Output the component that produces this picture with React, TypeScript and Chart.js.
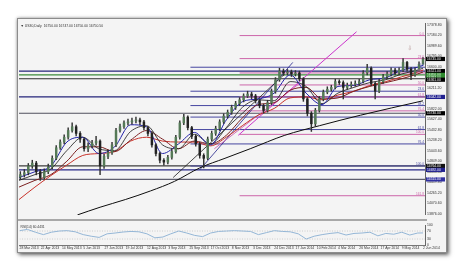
import React, { useEffect, useRef } from "react";
import { Chart, registerables } from "chart.js";
Chart.register(...registerables);

const FONT = '"Liberation Sans", Arial, sans-serif';

// ---------- data ----------
const titleText = "\u25BC US30,Daily  16750.00 16747.00 16750.00 16750.50";
const dateLabels = [
  "28 Mar 2013", "22 Apr 2013", "14 May 2013", "5 Jun 2013", "27 Jun 2013",
  "19 Jul 2013", "12 Aug 2013", "3 Sep 2013", "25 Sep 2013", "17 Oct 2013",
  "8 Nov 2013", "3 Dec 2013", "24 Dec 2013", "17 Jan 2014", "10 Feb 2014",
  "4 Mar 2014", "26 Mar 2014", "17 Apr 2014", "9 May 2014", "2 Jun 2014",
];
const firstOpen = 14560;
const closes = [
  14604, 14639, 14764, 14817, 14657, 14550, 14657, 14746, 14906, 15101,
  15207, 15296, 15420, 15491, 15367, 15261, 15083, 15136, 15190, 15225,
  14764, 14941, 15012, 15154, 15420, 15491, 15562, 15580, 15598, 15616,
  15580, 15474, 15367, 15154, 14994, 14870, 14835, 14923, 15030, 15296,
  15562, 15669, 15474, 15314, 15172, 14959, 14906, 15261, 15367, 15456,
  15580, 15687, 15758, 15847, 15918, 15989, 16060, 16095, 16060, 15971,
  15882, 15793, 15935, 16148, 16361, 16521, 16486, 16503, 16468, 16486,
  16379, 16006, 15740, 15545, 15793, 16006, 16131, 16184, 16219, 16326,
  16308, 16219, 16255, 16273, 16290, 16326, 16486, 16574, 16290, 16148,
  16326, 16415, 16468, 16539, 16486, 16539, 16681, 16557, 16450, 16539,
  16645, 16745,
];
const highs = [
  14660, 14700, 14810, 14870, 14850, 14700, 14710, 14800, 14950, 15140,
  15250, 15340, 15470, 15562, 15520, 15400, 15290, 15190, 15240, 15314,
  15250, 14980, 15060, 15200, 15460, 15540, 15600, 15630, 15650, 15670,
  15650, 15610, 15500, 15400, 15180, 15020, 14900, 14960, 15080, 15330,
  15600, 15722, 15690, 15500, 15340, 15200, 14990, 15300, 15410, 15500,
  15620, 15730, 15800, 15890, 15960, 16030, 16100, 16148, 16130, 16090,
  16000, 15910, 15980, 16190, 16400, 16574, 16560, 16550, 16540, 16530,
  16520, 16400, 16030, 15770, 15830, 16050, 16170, 16230, 16260, 16370,
  16360, 16340, 16300, 16320, 16340, 16370, 16530, 16645, 16600, 16320,
  16370, 16460, 16510, 16580, 16570, 16580, 16752, 16700, 16590, 16580,
  16690, 16775,
];
const lows = [
  14520, 14560, 14600, 14720, 14600, 14497, 14520, 14620, 14710, 14880,
  15070, 15170, 15260, 15390, 15320, 15200, 15040, 15030, 15100, 15150,
  14604, 14720, 14900, 14980, 15120, 15390, 15460, 15520, 15540, 15560,
  15530, 15430, 15320, 15110, 14950, 14820, 14781, 14800, 14890, 15000,
  15260, 15530, 15430, 15270, 15130, 14910, 14728, 14880, 15230, 15330,
  15420, 15550, 15650, 15720, 15810, 15880, 15950, 16030, 16010, 15930,
  15840, 15740, 15760, 15900, 16110, 16330, 16440, 16450, 16420, 16430,
  16340, 15960, 15690, 15403, 15500, 15760, 15970, 16100, 16150, 16190,
  16270, 16006, 16180, 16220, 16240, 16260, 16300, 16450, 16250, 16006,
  16120, 16290, 16380, 16430, 16450, 16450, 16510, 16520, 16361, 16420,
  16510, 16680,
];
const maDays = [0, 12, 24, 36, 48, 60, 72, 84, 96, 108, 120, 132, 144, 156, 168, 180, 192, 204, 216, 228, 240, 252, 264, 276, 288, 300, 304];
const maBlue = [14550, 14657, 14764, 15207, 15296, 14994, 15119, 15527, 15491, 14994, 15172, 15385, 15154, 15616, 15953, 16006, 16113, 16450, 16113, 15900, 16237, 16255, 16361, 16397, 16539, 16592, 16628];
const maBlack = [14497, 14604, 14710, 15048, 15296, 15083, 15048, 15403, 15509, 15154, 15083, 15349, 15172, 15474, 15847, 15989, 15971, 16326, 16237, 15918, 16113, 16219, 16308, 16361, 16468, 16539, 16574];
const maMaroon = [14373, 14497, 14604, 14852, 15119, 15119, 15030, 15243, 15420, 15261, 15083, 15225, 15172, 15332, 15651, 15900, 15935, 16166, 16219, 16006, 16024, 16148, 16237, 16308, 16379, 16468, 16503];
const maRed = [14142, 14373, 14586, 14781, 14959, 14994, 15030, 15225, 15296, 15225, 15207, 15207, 15136, 15296, 15509, 15704, 15829, 16024, 16042, 15989, 16077, 16148, 16255, 16326, 16415, 16503, 16539];
const ma200Days = [44, 61, 80, 99, 117, 136, 155, 174, 200, 226, 257, 304];
const ma200 = [13858, 14000, 14142, 14302, 14479, 14728, 14906, 15083, 15332, 15509, 15704, 15971];

const priceTicks = [17378.8, 17184.2, 16989.6, 16795.0, 16600.4, 16405.8, 16211.2, 16016.6, 15822.0, 15627.4, 15432.8, 15238.2, 15043.6, 14849.0, 14654.4, 14459.8, 14265.2, 14070.6, 13876.0];

const fullLevels = [16521, 16450, 16379, 16042, 15740, 14764, 14692, 14515];
const blueFibStart = 129;
const blueFib = [16592, 16148, 15882, 15669, 15438, 15172, 14764];
const blueFibLabels = ["0.0", "23.6", "38.2", "50.0", "61.8", "76.4", "100.0"];
const pinkFibStart = 166;
const pinkFib = [17178, 16752, 16486, 16264, 16042, 15784, 15349, 14213];
const pinkFibLabels = ["0.0", "23.6", "38.2", "50.0", "61.8", "76.4", "100.0", "161.8"];

const magentaTrend = [[165, 15332], [254, 17249]];
const pinkTrend = [[147, 15083], [211, 16290]];
const blackTrend = [[116, 14550], [200, 16468]];
const navyTrend = [[136, 14692], [206, 16681]];

const axisBoxValues = [16745, 16521, 16450, 16397, 16361, 16042, 15740, 14764, 14692, 14515];
const arrowMark = [294, 16947];

const rsiValues = [72, 78, 64, 52, 64, 70, 72, 66, 52, 44, 38, 56, 60, 65, 68, 66, 56, 36, 40, 56, 70, 60, 48, 42, 60, 68, 70, 72, 70, 68, 52, 62, 72, 68, 66, 56, 30, 44, 52, 58, 62, 50, 58, 60, 64, 46, 58, 54, 64, 50, 60, 60.44];
const rsiTicks = [100, 70, 30, 0];
const rsiLevels = [70, 30];
const rsiLabel = "RSI(14) 60.4431";

// ---------- styles ----------
const X_MAX = 305.5;
const fullLevelColors = ["#25257a", "#3c8c3c", "#2e2e2e", "#25257a", "#50505e", "#3e3e3e", "#2a2a8a", "#5e5e6e"];
const boxColors = ["#000", "#000", "#2e8b2e", "#2e8b2e", "#000", "#20208f", "#000", "#111", "#20208f", "#3030a0"];
const BLUE_FIB = "#4646a0";
const PINK_FIB = "#cc66aa";
const BULL = "#557a57";
const BEAR = "#222222";

function levelLine(value: number, from: number, color: string, width: number, order: number) {
  return {
    type: "line",
    data: [{ x: from, y: value }, { x: X_MAX, y: value }],
    borderColor: color,
    borderWidth: width,
    pointRadius: 0,
    tension: 0,
    order,
  };
}
function segLine(pts: number[][], color: string, width: number, order: number) {
  return {
    type: "line",
    data: pts.map((p) => ({ x: p[0], y: p[1] })),
    borderColor: color,
    borderWidth: width,
    pointRadius: 0,
    tension: 0,
    order,
  };
}
function maLine(days: number[], vals: number[], color: string, width: number, order: number) {
  return {
    type: "line",
    data: days.map((d, i) => ({ x: d, y: vals[i] })),
    borderColor: color,
    borderWidth: width,
    pointRadius: 0,
    cubicInterpolationMode: "monotone",
    order,
  };
}

export default function App() {
  const mainRef = useRef<HTMLCanvasElement>(null);
  const rsiRef = useRef<HTMLCanvasElement>(null);

  useEffect(() => {
    Chart.defaults.font.family = FONT;
    const opens = [firstOpen, ...closes.slice(0, -1)];
    const candleX = (k: number) => 3 * k + 1;

    const overlayA = {
      id: "overlayA",
      afterDraw(chart: any) {
        const { ctx, chartArea, scales } = chart;
        const x = scales.x;
        const y = scales.y;
        ctx.save();
        ctx.font = `3.4px ${FONT}`;
        ctx.fillStyle = "#333";
        ctx.textAlign = "left";
        ctx.textBaseline = "middle";
        ctx.fillText(titleText, chartArea.left + 1.5, chartArea.top + 2.6);

        ctx.font = `3.2px ${FONT}`;
        ctx.textAlign = "right";
        ctx.textBaseline = "bottom";
        blueFib.forEach((v, i) => {
          ctx.fillStyle = BLUE_FIB;
          ctx.fillText(blueFibLabels[i], chartArea.right - 1, y.getPixelForValue(v) - 0.3);
        });
        pinkFib.forEach((v, i) => {
          ctx.fillStyle = PINK_FIB;
          ctx.fillText(pinkFibLabels[i], chartArea.right - 1, y.getPixelForValue(v) - 0.3);
        });

        ctx.font = `3.3px ${FONT}`;
        ctx.textAlign = "left";
        ctx.textBaseline = "middle";
        axisBoxValues.forEach((v, i) => {
          const py = y.getPixelForValue(v);
          ctx.fillStyle = boxColors[i];
          ctx.fillRect(chartArea.right + 1, py - 2.1, 19, 4.2);
          ctx.fillStyle = "#fff";
          ctx.fillText(v.toFixed(2), chartArea.right + 2, py);
        });

        ctx.font = `6px "DejaVu Sans"`;
        ctx.textAlign = "center";
        ctx.fillStyle = "#b89a9a";
        ctx.fillText("\u21E9", x.getPixelForValue(arrowMark[0]), y.getPixelForValue(arrowMark[1]));
        ctx.restore();
      },
    };

    const datasets: any[] = [
      {
        type: "bar",
        data: closes.map((c, k) => ({ x: candleX(k), y: [opens[k], c] })),
        backgroundColor: closes.map((c, k) => (c >= opens[k] ? BULL : BEAR)),
        barThickness: 1.8,
        grouped: false,
        order: 0,
      },
      {
        type: "bar",
        data: closes.map((c, k) => ({ x: candleX(k), y: [lows[k], highs[k]] })),
        backgroundColor: "#333333",
        barThickness: 0.8,
        grouped: false,
        order: 1,
      },
      maLine(maDays, maBlue, "#2222a8", 1, 2),
      maLine(maDays, maBlack, "#151515", 0.8, 3),
      maLine(maDays, maMaroon, "#7a1f1f", 1, 4),
      maLine(maDays, maRed, "#c8322a", 1, 5),
      maLine(ma200Days, ma200, "#0d0d0d", 1, 6),
      segLine(magentaTrend, "#cc33cc", 1, 7),
      segLine(pinkTrend, "#d060b0", 0.9, 7),
      segLine(blackTrend, "#1a1a1a", 0.8, 7),
      segLine(navyTrend, "#22228a", 0.8, 7),
      ...blueFib.map((v) => levelLine(v, blueFibStart, BLUE_FIB, 1, 8)),
      ...pinkFib.map((v) => levelLine(v, pinkFibStart, PINK_FIB, 1, 8)),
      ...fullLevels.map((v, i) => levelLine(v, 0, fullLevelColors[i], 1.2, 9)),
    ];

    const a = new Chart(mainRef.current as HTMLCanvasElement, {
      type: "bar",
      data: { datasets },
      options: {
        animation: false,
        responsive: false,
        events: [],
        layout: { padding: { left: 1, right: 0, top: 0, bottom: 0 } },
        plugins: { legend: { display: false }, tooltip: { enabled: false } },
        scales: {
          x: { type: "linear", min: 0, max: X_MAX, display: false, offset: false },
          y: {
            type: "linear",
            position: "right",
            min: 13858,
            max: 17409,
            afterBuildTicks: (s: any) => {
              s.ticks = priceTicks.map((v) => ({ value: v }));
            },
            afterFit: (s: any) => {
              s.width = 21;
            },
            grid: { display: false, drawTicks: false },
            border: { display: true, color: "#666", width: 1 },
            ticks: {
              font: { size: 3.5, family: FONT },
              color: "#333",
              padding: 2,
              autoSkip: false,
              callback: (v: any) => Number(v).toFixed(2),
            },
          },
        },
      } as any,
      plugins: [overlayA],
    } as any);

    const overlayB = {
      id: "overlayB",
      afterDraw(chart: any) {
        const { ctx, chartArea } = chart;
        ctx.save();
        ctx.font = `3.3px ${FONT}`;
        ctx.fillStyle = "#333";
        ctx.textAlign = "left";
        ctx.textBaseline = "top";
        ctx.fillText(rsiLabel, chartArea.left + 1, chartArea.top + 0.6);
        ctx.restore();
      },
    };
    const rsiDays = rsiValues.map((_, i) => (i < rsiValues.length - 1 ? i * 6 : 304));
    const b = new Chart(rsiRef.current as HTMLCanvasElement, {
      type: "line",
      data: {
        datasets: [
          {
            data: rsiDays.map((d, i) => ({ x: d, y: rsiValues[i] })),
            borderColor: "#94b6d6",
            borderWidth: 1,
            pointRadius: 0,
            tension: 0,
            order: 0,
          },
          ...rsiLevels.map((lv) => ({
            data: [{ x: 0, y: lv }, { x: X_MAX, y: lv }],
            borderColor: "#c4c4c4",
            borderWidth: 0.8,
            borderDash: [1, 1.5],
            pointRadius: 0,
            order: 1,
          })),
        ],
      },
      options: {
        animation: false,
        responsive: false,
        events: [],
        layout: { padding: { left: 1, right: 0, top: 1, bottom: 0 } },
        plugins: { legend: { display: false }, tooltip: { enabled: false } },
        scales: {
          x: {
            type: "linear",
            min: 0,
            max: X_MAX,
            offset: false,
            afterBuildTicks: (s: any) => {
              s.ticks = dateLabels.map((_, i) => ({ value: i * 16 }));
            },
            afterFit: (s: any) => {
              s.height = 7;
            },
            grid: { display: false, drawTicks: false },
            border: { display: true, color: "#777", width: 1 },
            ticks: {
              align: "start",
              font: { size: 3.4, family: FONT },
              color: "#333",
              padding: 1.5,
              maxRotation: 0,
              autoSkip: false,
              callback: (_v: any, i: number) => dateLabels[i],
            },
          },
          y: {
            type: "linear",
            position: "right",
            min: 0,
            max: 100,
            afterBuildTicks: (s: any) => {
              s.ticks = rsiTicks.map((v) => ({ value: v }));
            },
            afterFit: (s: any) => {
              s.width = 21;
            },
            grid: { display: false, drawTicks: false },
            border: { display: true, color: "#666", width: 1 },
            ticks: {
              font: { size: 3.4, family: FONT },
              color: "#333",
              padding: 2,
              autoSkip: false,
              callback: (v: any) => String(v),
            },
          },
        },
      } as any,
      plugins: [overlayB],
    } as any);

    return () => {
      a.destroy();
      b.destroy();
    };
  }, []);

  return (
    <div
      style={{
        position: "absolute",
        left: 17,
        top: 18,
        width: 428,
        height: 233,
        border: "1px solid #8c8c8c",
        background: "#f4f4f4",
        boxShadow: "2px 2px 4px rgba(0,0,0,0.55), 0 0 3px rgba(0,0,0,0.35)",
      }}
    >
      <canvas ref={mainRef} width={428} height={200} style={{ position: "absolute", left: 0, top: 0, display: "block" }} />
      <div style={{ position: "absolute", left: 0, top: 200, width: 409, height: 2, background: "#a8a8a8" }} />
      <canvas ref={rsiRef} width={428} height={31} style={{ position: "absolute", left: 0, top: 202, display: "block" }} />
    </div>
  );
}
